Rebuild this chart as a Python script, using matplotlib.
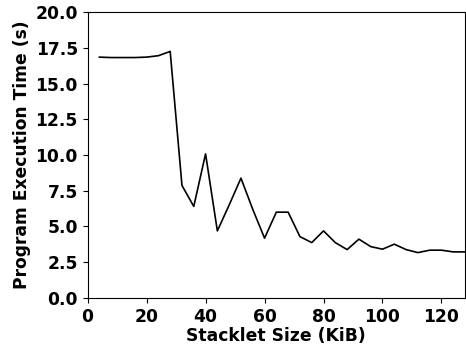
import matplotlib
matplotlib.use('Agg')
import matplotlib.pyplot as plt

plt.rcParams['font.weight'] = 'bold'
plt.rcParams['axes.labelweight'] = 'bold'
plt.rcParams['font.size'] = 12.3

stacklet_kib = [4, 8, 12, 16, 20, 24, 28, 32, 36, 40, 44, 48, 52, 56, 60, 64,
                68, 72, 76, 80, 84, 88, 92, 96, 100, 104, 108, 112, 116, 120, 124, 128]
exec_time = [16.85, 16.82, 16.82, 16.82, 16.85, 16.95, 17.25, 7.87, 6.4, 10.08,
             4.69, 6.5, 8.38, 6.2, 4.18, 6.0, 6.0, 4.29, 3.87, 4.69, 3.87, 3.38,
             4.11, 3.59, 3.41, 3.76, 3.38, 3.17, 3.34, 3.34, 3.22, 3.22]

fig = plt.figure(figsize=(4.66, 3.46), dpi=100)
ax = fig.add_axes([0.188, 0.139, 0.810, 0.826])
ax.plot(stacklet_kib, exec_time, color='black', linewidth=1.2)

ax.set_xlim(0, 128)
ax.set_ylim(0, 20)
ax.set_xticks([0, 20, 40, 60, 80, 100, 120])
ax.set_yticks([0, 2.5, 5, 7.5, 10, 12.5, 15, 17.5, 20])
ax.set_yticklabels(['%.1f' % v for v in ax.get_yticks()])
ax.set_xlabel('Stacklet Size (KiB)', labelpad=1)
ax.set_ylabel('Program Execution Time (s)', labelpad=3)

plt.savefig('out.png', dpi=100)
